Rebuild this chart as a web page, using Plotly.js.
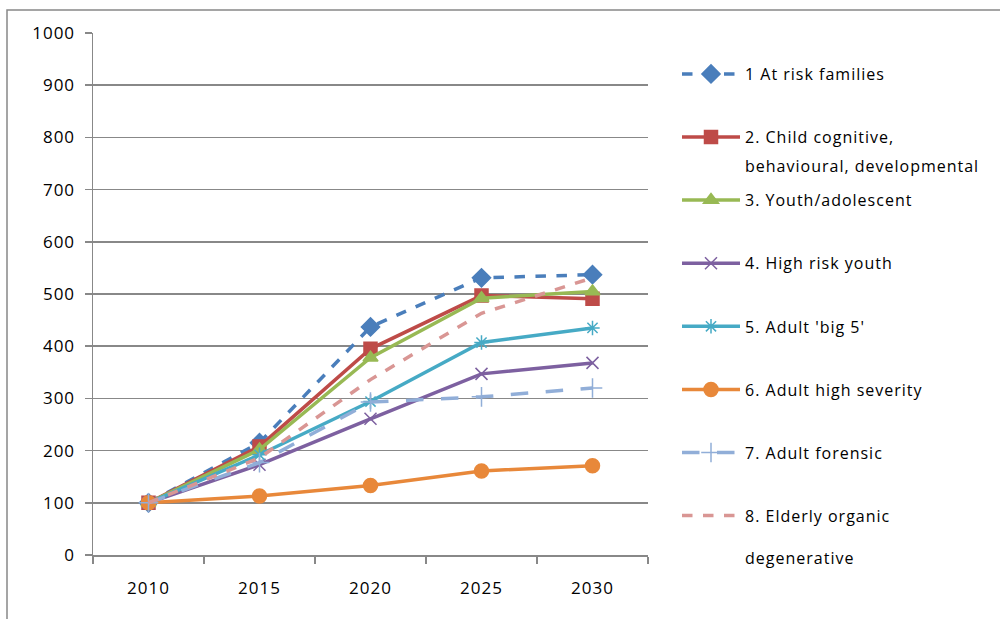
<!DOCTYPE html>
<html>
<head>
<meta charset="utf-8">
<script src="https://cdn.plot.ly/plotly-3.0.1.min.js"></script>
<style>
html,body{margin:0;padding:0;background:#fff;}
#chart{width:1000px;height:619px;}
.legendtext, .annotation-text{letter-spacing:1px;}
.xtick text, .ytick text{letter-spacing:1px;}
</style>
</head>
<body>
<div id="chart"></div>
<script>
var years = ['2010', '2015', '2020', '2025', '2030'];
var atRiskFamilies = [100, 215, 437, 531, 537];
var childCognitive = [100, 208, 395, 497, 491];
var youthAdolescent = [100, 202, 378, 492, 505];
var highRiskYouth = [100, 173, 261, 347, 368];
var adultBig5 = [100, 192, 294, 407, 435];
var adultHighSeverity = [100, 113, 133, 161, 171];
var adultForensic = [100, 177, 293, 303, 320];
var elderlyOrganic = [100, 186, 336, 463, 531];

var seriesNames = ['1 At risk families', '2. Child cognitive,', '3. Youth/adolescent', '4. High risk youth',
  "5. Adult 'big 5'", '6. Adult high severity', '7. Adult forensic', '8. Elderly organic'];
var nameSecondLines = ['', 'behavioural, developmental', '', '', '', '', '', 'degenerative'];

var seriesValues = [atRiskFamilies, childCognitive, youthAdolescent, highRiskYouth, adultBig5, adultHighSeverity, adultForensic, elderlyOrganic];
var colors = ['#4A7EBB', '#BE4B48', '#98B954', '#7D60A0', '#46AAC5', '#E8883A', '#91AED8', '#D99694'];
var dashes = ['dash', 'solid', 'solid', 'solid', 'solid', 'solid', 'longdash', 'dash'];
var symbols = ['diamond', 'square', 'triangle-up', 'x-thin-open', 'asterisk-open', 'circle', 'cross-thin-open', 'circle'];
var sizes = [14, 13, 13, 12, 12, 14, 14, 0];

var FONT = '"Open Sans", sans-serif';

var traces = seriesValues.map(function (vals, i) {
  return {
    x: years, y: vals, type: 'scatter',
    mode: i === 7 ? 'lines' : 'lines+markers',
    name: seriesNames[i],
    legendgroup: 'g' + i,
    line: {color: colors[i], width: 3.5, dash: dashes[i]},
    marker: {symbol: symbols[i], size: sizes[i], color: colors[i], line: {color: colors[i], width: 1.5}},
    hoverinfo: 'skip'
  };
});

var PL = 93, PR = 648, PT = 33, PB = 555;
function px(x) { return (x - PL) / (PR - PL); }
function py(y) { return (PB - y) / (PB - PT); }

var annotations = [];
nameSecondLines.forEach(function (t, i) {
  if (!t) return;
  var yy = i === 1 ? 166 : 558;
  annotations.push({xref: 'paper', yref: 'paper', x: px(743), y: py(yy), xanchor: 'left', yanchor: 'middle',
    text: t, showarrow: false, font: {family: FONT, size: 16, color: '#000'}});
});

var layout = {
  width: 1000, height: 619,
  margin: {l: PL, r: 1000 - PR, t: PT, b: 619 - PB},
  paper_bgcolor: '#fff', plot_bgcolor: '#fff',
  font: {family: FONT, color: '#000'},
  showlegend: true,
  legend: {x: px(677), xanchor: 'left', y: py(57), yanchor: 'top', tracegroupgap: 39.3,
    font: {family: FONT, size: 16, color: '#000'}, itemwidth: 58, bgcolor: 'rgba(0,0,0,0)'},
  xaxis: {
    type: 'category', range: [-0.5, 4.5], showgrid: false, showline: true, linecolor: '#888', linewidth: 1.5,
    ticks: 'outside', tickson: 'boundaries', ticklen: 7, tickcolor: '#888', tickwidth: 1.5,
    tickfont: {family: FONT, size: 17, color: '#000'}, ticklabelstandoff: 17, fixedrange: true
  },
  yaxis: {
    range: [0, 1000], dtick: 100, showgrid: true, gridcolor: '#888', gridwidth: 1.5, zeroline: false,
    showline: true, linecolor: '#888', linewidth: 1.5, ticks: 'outside', ticklen: 7, tickcolor: '#888', tickwidth: 1.5,
    tickfont: {family: FONT, size: 17, color: '#000'}, ticklabelstandoff: 6, fixedrange: true
  },
  shapes: [{type: 'rect', xref: 'paper', yref: 'paper', x0: px(7), x1: px(1010), y0: py(640), y1: py(10),
    line: {color: '#888', width: 1.5}, fillcolor: 'rgba(0,0,0,0)', layer: 'below'}],
  annotations: annotations
};

Plotly.newPlot('chart', traces, layout, {displayModeBar: false, staticPlot: true});
</script>
</body>
</html>
